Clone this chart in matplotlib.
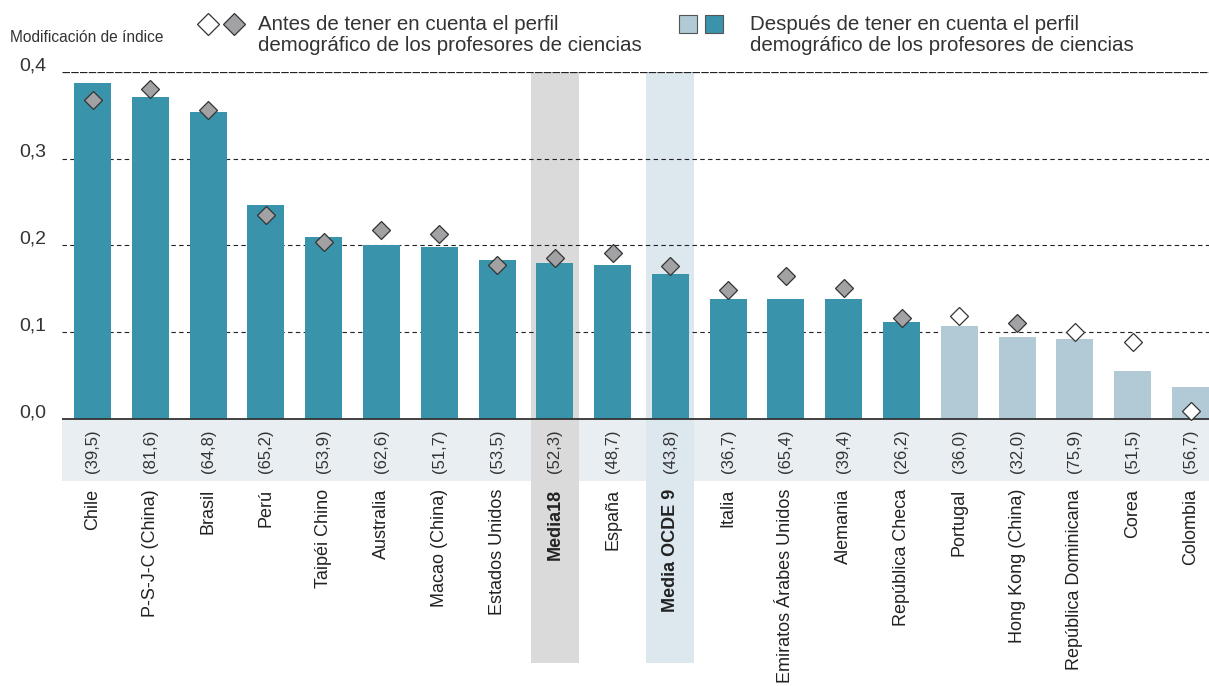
import numpy as np
import matplotlib
matplotlib.use("Agg")
import matplotlib.pyplot as plt
import matplotlib.transforms as mtransforms
from matplotlib.lines import Line2D
from matplotlib.patches import Rectangle

plt.rcParams['font.family'] = ['Liberation Sans', 'DejaVu Sans']

countries = ["Chile", "P-S-J-C (China)", "Brasil", "Perú", "Taipéi Chino",
             "Australia", "Macao (China)", "Estados Unidos", "Media18", "España",
             "Media OCDE 9", "Italia", "Emiratos Árabes Unidos", "Alemania",
             "República Checa", "Portugal", "Hong Kong (China)",
             "República Dominicana", "Corea", "Colombia"]
shares = ["39,5", "81,6", "64,8", "65,2", "53,9", "62,6", "51,7", "53,5", "52,3",
          "48,7", "43,8", "36,7", "65,4", "39,4", "26,2", "36,0", "32,0", "75,9",
          "51,5", "56,7"]
after = [0.387, 0.371, 0.354, 0.247, 0.210, 0.201, 0.198, 0.183, 0.180, 0.178,
         0.167, 0.138, 0.138, 0.138, 0.112, 0.107, 0.094, 0.092, 0.055, 0.037]
before = [0.368, 0.380, 0.356, 0.235, 0.204, 0.218, 0.213, 0.178, 0.186, 0.191,
          0.176, 0.149, 0.165, 0.151, 0.116, 0.119, 0.111, 0.100, 0.089, 0.009]
after_sig = [True] * 15 + [False] * 5
before_sig = [True] * 15 + [False, True, False, False, False]
averages = ["Media18", "Media OCDE 9"]
yticks = [0.0, 0.1, 0.2, 0.3, 0.4]

DARK = "#3893ab"
LIGHT = "#b1cad5"
GREY_D = "#a2a2a4"

fig = plt.figure(figsize=(12.09, 6.86), dpi=100)
ax = fig.add_axes([62 / 1209, 1 - 663 / 686, 1 - 62 / 1209, (663 - 72) / 686])
ymin = -(663 - 419) / 867.5
ax.set_ylim(ymin, 0.4)
ax.set_xlim(-0.528, 19.32)

x = np.arange(len(countries))

# band behind the share labels
ax.axhspan(-(481 - 419) / 867.5, 0, color="#e8eef2", lw=0, zorder=0)
# highlight columns for the averages
for name, col in zip(averages, ["#dadada", "#dde7ee"]):
    i = countries.index(name)
    ax.axvspan(i - 0.415, i + 0.415, color=col, lw=0, zorder=0.5)

bar_cols = [DARK if s else LIGHT for s in after_sig]
ax.bar(x, after, width=0.64, color=bar_cols, zorder=2)

for xi, v, s in zip(x, before, before_sig):
    ax.plot(xi, v, marker="D", ms=9.5, mfc=GREY_D if s else "white",
            mec="#333333", mew=0.9, zorder=4, clip_on=False)

# grid
for t in yticks[1:4]:
    ax.axhline(t, color="#222222", lw=0.8, ls=(0, (4, 3)), zorder=1)
ax.axhline(0.4, color="#222222", lw=0.9, ls=(0, (6, 1)), zorder=1)
ax.axhline(0, color="#333333", lw=1.3, zorder=3)

for sp in ax.spines.values():
    sp.set_visible(False)
ax.set_xticks([])
ax.set_yticks(yticks)
ax.set_yticklabels([f"{t:.1f}".replace(".", ",") for t in yticks],
                   fontsize=14, color="#333333")
ax.tick_params(axis="y", length=0, pad=11)
off = mtransforms.ScaledTranslation(0, 6 / 72, fig.dpi_scale_trans)
for lab in ax.get_yticklabels():
    lab.set_transform(lab.get_transform() + off)

for xi, name, sh in zip(x, countries, shares):
    ax.text(xi, -(451 - 419) / 867.5, f"({sh})", rotation=90, ha="center",
            va="center", fontsize=12, color="#333333")
    bold = name in averages
    ax.text(xi, -(489 - 419) / 867.5, name, rotation=90, ha="center", va="top",
            fontsize=13, color="#222222",
            fontweight="bold" if bold else "normal")

# header
fig.text(10 / 1209, 1 - 37 / 686, "Modificación de índice", fontsize=11.2,
         va="center", ha="left", color="#333333")

def fig_marker(px, py, **kw):
    fig.add_artist(Line2D([px / 1209], [1 - py / 686], transform=fig.transFigure,
                          **kw))

fig_marker(208, 24, marker="D", ms=11, mfc="white", mec="#333333", mew=0.9)
fig_marker(234, 24, marker="D", ms=11, mfc=GREY_D, mec="#333333", mew=0.9)
fig.text(258 / 1209, 1 - 35 / 686,
         "Antes de tener en cuenta el perfil\ndemográfico de los profesores de ciencias",
         fontsize=14.8, va="center", ha="left", color="#333333", linespacing=1.1)

for px, col in [(688, LIGHT), (714, DARK)]:
    fig.add_artist(Rectangle((px / 1209 - 9 / 1209, 1 - 33 / 686), 18 / 1209,
                             18 / 686, transform=fig.transFigure, fc=col,
                             ec="#555555", lw=0.8))
fig.text(750 / 1209, 1 - 35 / 686,
         "Después de tener en cuenta el perfil\ndemográfico de los profesores de ciencias",
         fontsize=14.8, va="center", ha="left", color="#333333", linespacing=1.1)

fig.savefig("out.png", dpi=100)
